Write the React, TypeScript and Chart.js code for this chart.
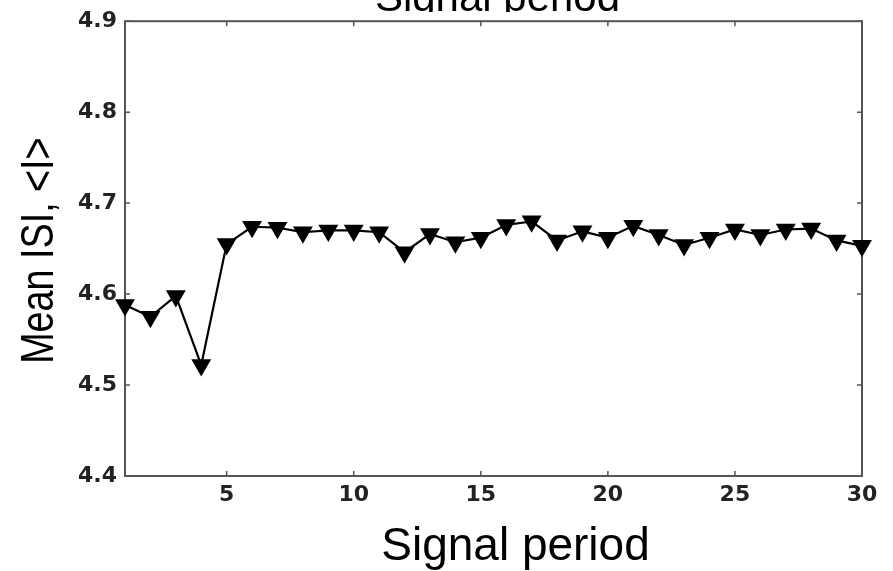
import React, { useEffect, useRef } from "react";
import { Chart, registerables } from "chart.js";
Chart.register(...registerables);

const periods = [1, 2, 3, 4, 5, 6, 7, 8, 9, 10, 11, 12, 13, 14, 15, 16, 17, 18, 19, 20, 21, 22, 23, 24, 25, 26, 27, 28, 29, 30];
const meanISI = [4.588, 4.575, 4.598, 4.522, 4.655, 4.674, 4.673, 4.668, 4.670, 4.670, 4.668, 4.646, 4.666, 4.657, 4.662, 4.676, 4.680, 4.659, 4.669, 4.662, 4.675, 4.665, 4.654, 4.662, 4.671, 4.665, 4.671, 4.672, 4.659, 4.653];
const xTicks = [5, 10, 15, 20, 25, 30];
const yTicks = [4.4, 4.5, 4.6, 4.7, 4.8, 4.9];
const xTitle = "Signal period";
const yTitle = "Mean ISI, <I>";
const topTitle = "Signal period";

const framePlugin = {
  id: "frame",
  beforeDatasetsDraw(chart: any) {
    const { ctx, chartArea } = chart;
    const { left, right, top, bottom } = chartArea;
    const xs = chart.scales.x;
    const ys = chart.scales.y;
    ctx.save();
    ctx.strokeStyle = "#555";
    ctx.lineWidth = 1.5;
    xTicks.forEach((v) => {
      const px = xs.getPixelForValue(v);
      ctx.beginPath();
      ctx.moveTo(px, bottom);
      ctx.lineTo(px, bottom - 5);
      ctx.moveTo(px, top);
      ctx.lineTo(px, top + 5);
      ctx.stroke();
    });
    yTicks.forEach((v) => {
      const py = ys.getPixelForValue(v);
      ctx.beginPath();
      ctx.moveTo(left, py);
      ctx.lineTo(left + 5, py);
      ctx.moveTo(right, py);
      ctx.lineTo(right - 5, py);
      ctx.stroke();
    });
    ctx.lineWidth = 2;
    ctx.strokeStyle = "#555";
    ctx.strokeRect(left, top, right - left, bottom - top);
    ctx.restore();
  },
  afterDraw(chart: any) {
    const { ctx, chartArea } = chart;
    const { left, right, bottom } = chartArea;
    const cx = (left + right) / 2;
    ctx.save();
    ctx.fillStyle = "#000";
    ctx.save();
    ctx.beginPath();
    ctx.rect(0, 0, chart.width, 12);
    ctx.clip();
    ctx.font = "42px 'Liberation Sans', Arial, sans-serif";
    ctx.textAlign = "center";
    ctx.textBaseline = "alphabetic";
    ctx.fillText(topTitle, cx + 4, 11);
    ctx.restore();
    ctx.font = "46px 'Liberation Sans', Arial, sans-serif";
    ctx.textAlign = "center";
    ctx.textBaseline = "alphabetic";
    ctx.fillText(xTitle, cx + 22, bottom + 84);
    ctx.save();
    ctx.translate(53, (chartArea.top + bottom) / 2 + 2);
    ctx.rotate(-Math.PI / 2);
    ctx.scale(0.82, 1);
    ctx.font = "46px 'Liberation Sans', Arial, sans-serif";
    ctx.textAlign = "center";
    ctx.textBaseline = "alphabetic";
    ctx.fillText(yTitle, 0, 0);
    ctx.restore();
    ctx.restore();
  },
};

export default function App() {
  const ref = useRef<HTMLCanvasElement | null>(null);
  useEffect(() => {
    if (!ref.current) return;
    const tickFont = { family: "'DejaVu Sans', sans-serif", size: 22, weight: "bold" as const };
    const chart = new Chart(ref.current, {
      type: "line",
      data: {
        datasets: [
          {
            data: periods.map((p, i) => ({ x: p, y: meanISI[i] })),
            borderColor: "#000",
            borderWidth: 2.2,
            backgroundColor: "#000",
            pointStyle: "triangle",
            rotation: 180,
            pointRadius: 11.5,
            pointBorderWidth: 0,
            pointBackgroundColor: "#000",
            tension: 0,
            clip: false,
          },
        ],
      },
      options: {
        animation: false,
        responsive: false,
        devicePixelRatio: 1,
        layout: { padding: { top: 20, right: 31, left: 0, bottom: 0 } },
        plugins: { legend: { display: false }, tooltip: { enabled: false }, title: { display: false } },
        scales: {
          x: {
            type: "linear",
            min: 1,
            max: 30,
            grid: { display: false, drawTicks: false },
            border: { display: false },
            afterBuildTicks: (s: any) => {
              s.ticks = xTicks.map((v) => ({ value: v }));
            },
            afterFit: (s: any) => {
              s.height = 95;
            },
            ticks: { font: tickFont, color: "#222", padding: 6, maxRotation: 0, autoSkip: false, callback: (v: any) => String(v) },
          },
          y: {
            type: "linear",
            min: 4.4,
            max: 4.9,
            grid: { display: false, drawTicks: false },
            border: { display: false },
            afterBuildTicks: (s: any) => {
              s.ticks = yTicks.map((v) => ({ value: v }));
            },
            afterFit: (s: any) => {
              s.width = 125;
            },
            ticks: { font: tickFont, color: "#222", padding: 8, autoSkip: false, callback: (v: any) => Number(v).toFixed(1) },
          },
        },
      },
      plugins: [framePlugin],
    });
    return () => chart.destroy();
  }, []);
  return (
    <div style={{ position: "fixed", left: 0, top: 0, width: 893, height: 571, background: "#fff" }}>
      <canvas ref={ref} width={893} height={571} style={{ width: 893, height: 571, display: "block" }} />
    </div>
  );
}
